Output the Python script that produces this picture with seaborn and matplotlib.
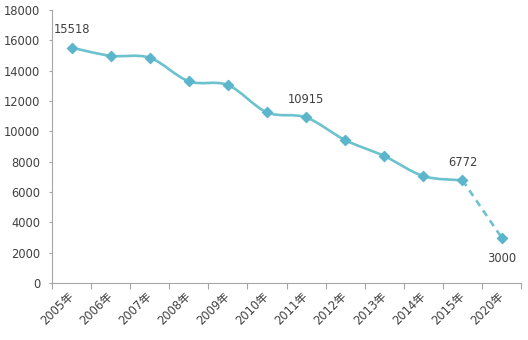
import numpy as np
import pandas as pd
import matplotlib
matplotlib.use("Agg")
import matplotlib.pyplot as plt
from matplotlib.path import Path
from matplotlib.patches import PathPatch
import seaborn as sns

# Data
years = ["2005年", "2006年", "2007年", "2008年", "2009年", "2010年",
         "2011年", "2012年", "2013年", "2014年", "2015年", "2020年"]
values = [15518, 14980, 14850, 13300, 13050, 11250,
          10915, 9420, 8370, 7050, 6772, 3000]
labeled = ["2005年", "2011年", "2015年", "2020年"]
y_ticks = [0, 2000, 4000, 6000, 8000, 10000, 12000, 14000, 16000, 18000]

sns.set_theme(style="white")
plt.rcParams["font.family"] = ["DejaVu Sans", "Noto Sans CJK SC"]

LINE = "#6CC2CD"
MARK = "#5BB5CB"
AXIS = "#A6A6A6"
TEXT = "#404040"

df = pd.DataFrame({"year": years, "value": values})
df["pos"] = np.arange(len(df))

fig = plt.figure(figsize=(5.28, 3.40), dpi=100)
ax = fig.add_axes([0.0985, 0.1676, 0.8885, 0.803])

# Smoothed solid line through the measured years (cubic Bezier, Catmull-Rom handles)
solid = df.iloc[:-1]
px = solid["pos"].to_numpy(float)
py = solid["value"].to_numpy(float)
pts = np.column_stack([px, py])
verts = [pts[0]]
codes = [Path.MOVETO]
for i in range(len(pts) - 1):
    p0 = pts[i - 1] if i > 0 else pts[i]
    p1, p2 = pts[i], pts[i + 1]
    p3 = pts[i + 2] if i + 2 < len(pts) else pts[i + 1]
    c1 = p1 + (p2 - p0) / 6.0
    c2 = p2 - (p3 - p1) / 6.0
    verts += [c1, c2, p2]
    codes += [Path.CURVE4] * 3
ax.add_patch(PathPatch(Path(verts, codes), facecolor="none", edgecolor=LINE,
                       lw=1.9, capstyle="round", joinstyle="round", zorder=2))

# Dashed projection segment
sns.lineplot(data=df.iloc[-2:], x="pos", y="value", ax=ax, color=LINE,
             lw=1.9, linestyle=(0, (2.6, 2.0)), zorder=2)

# Markers
sns.scatterplot(data=df, x="pos", y="value", ax=ax, marker="D", s=28,
                color=MARK, edgecolor=MARK, linewidth=0.8, zorder=3)

# Value labels
for _, r in df[df["year"].isin(labeled)].iterrows():
    off = -15 if r["year"] == "2020年" else 13
    ax.annotate(f"{r['value']}", (r["pos"], r["value"]), xytext=(0, off),
                textcoords="offset points", ha="center", va="center",
                fontsize=8.3, color=TEXT)

ax.set_xlim(-0.5, len(years) - 0.5)
ax.set_ylim(0, 18000)
ax.set_yticks(y_ticks)
ax.set_yticklabels([str(t) for t in y_ticks], fontsize=8.3, color=TEXT)
ax.set_xticks(df["pos"])
ax.set_xticklabels(years, rotation=45, ha="right", va="center",
                   rotation_mode="anchor", fontsize=8.3, color=TEXT)
ax.set_xticks(np.arange(-0.5, len(years)), minor=True)
ax.tick_params(axis="x", which="major", length=0, pad=8)
ax.tick_params(axis="x", which="minor", length=4, color=AXIS, width=0.8,
               direction="out", bottom=True)
ax.tick_params(axis="y", length=2.5, color=AXIS, width=0.8, direction="out",
               left=True, pad=6)
ax.set_xlabel("")
ax.set_ylabel("")
for s in ["top", "right"]:
    ax.spines[s].set_visible(False)
for s in ["left", "bottom"]:
    ax.spines[s].set_color(AXIS)
    ax.spines[s].set_linewidth(0.8)

fig.savefig("out.png", dpi=100, facecolor="white")
